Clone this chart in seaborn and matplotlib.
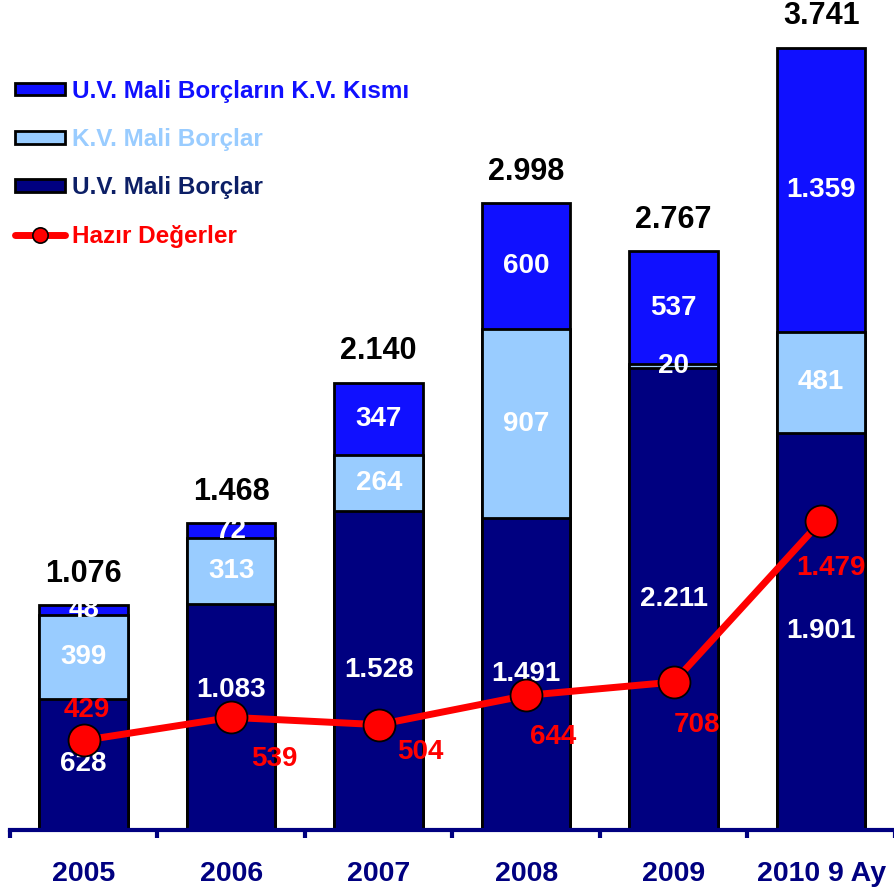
import numpy as np
import pandas as pd
import matplotlib
matplotlib.use("Agg")
import matplotlib.pyplot as plt
from matplotlib.patches import Patch
from matplotlib.lines import Line2D
import seaborn as sns

# Balance sheet figures (million TL)
years = ["2005", "2006", "2007", "2008", "2009", "2010 9 Ay"]
uv_borc = [628, 1083, 1528, 1491, 2211, 1901]          # U.V. Mali Borçlar
kv_borc = [399, 313, 264, 907, 20, 481]                # K.V. Mali Borçlar
uv_kv_kisim = [48, 72, 347, 600, 537, 1359]            # U.V. Mali Borçların K.V. Kısmı
toplam = [1076, 1468, 2140, 2998, 2767, 3741]
hazir = [429, 539, 504, 644, 708, 1479]                # Hazır Değerler

NAVY = "#000080"
LIGHT = "#99CCFF"
BLUE = "#1010FF"
RED = "#FF0000"
LEGEND_NAVY = "#0C1F66"


def fmt(v):
    return f"{v:,}".replace(",", ".")


sns.set_theme(style="white")
plt.rcParams["font.family"] = ["Liberation Sans", "DejaVu Sans"]
plt.rcParams["font.weight"] = "bold"

df = pd.DataFrame({
    "yil": years,
    "uv": uv_borc,
    "kv": kv_borc,
    "kisim": uv_kv_kisim,
})
df["alt_orta"] = df["uv"] + df["kv"]
df["ust"] = df["alt_orta"] + df["kisim"]

fig = plt.figure(figsize=(8.95, 8.90), dpi=100)
ax = fig.add_axes([10 / 895, 60 / 890, 885 / 895, 830 / 890])

bar_kw = dict(width=0.6, edgecolor="black", linewidth=2, saturation=1, ax=ax, order=years)
# Stacked bars drawn back to front from cumulative heights
sns.barplot(data=df, x="yil", y="ust", color=BLUE, **bar_kw)
sns.barplot(data=df, x="yil", y="alt_orta", color=LIGHT, **bar_kw)
sns.barplot(data=df, x="yil", y="uv", color=NAVY, **bar_kw)

# Cash line
xs = np.arange(len(years))
sns.lineplot(x=xs, y=hazir, ax=ax, color=RED, linewidth=5, marker="o",
             markersize=23, markerfacecolor=RED, markeredgecolor="black",
             markeredgewidth=1.3, zorder=5)

# label offsets for the cash values (points; x right, y up)
cash_offsets = [(2, 22), (31, -30), (30, -20), (19, -30), (17, -31), (7, -34)]

lbl = dict(color="white", fontsize=20, fontweight="bold", ha="center", va="center", zorder=4)
for i in range(len(years)):
    u, k, s = uv_borc[i], kv_borc[i], uv_kv_kisim[i]
    dy = 130 if i == 1 else 0
    ax.text(i, u / 2 + dy, fmt(u), **lbl)
    ax.text(i, u + k / 2, fmt(k), **lbl)
    ax.text(i, u + k + s / 2, fmt(s), **lbl)
    ax.annotate(fmt(toplam[i]), (i, u + k + s), xytext=(0, 12),
                textcoords="offset points", ha="center", va="bottom",
                fontsize=22, fontweight="bold", color="black")
    ax.annotate(fmt(hazir[i]), (i, hazir[i]), xytext=cash_offsets[i],
                textcoords="offset points", ha="center", va="center",
                fontsize=20, fontweight="bold", color=RED, zorder=6)

ax.set_xlim(-0.5, -0.5 + 885 / 148.6)
ax.set_ylim(0, 830 / 0.209)
ax.set_xlabel("")
ax.set_ylabel("")
ax.set_yticks([])
for side in ["left", "right", "top"]:
    ax.spines[side].set_visible(False)
ax.spines["bottom"].set_color(NAVY)
ax.spines["bottom"].set_linewidth(3)
ax.set_xticks(xs)
ax.set_xticklabels(years, fontsize=20.5, fontweight="bold", color=NAVY)
ax.tick_params(axis="x", which="major", length=0, pad=22)
ax.set_xticks(np.arange(-0.5, len(years), 1.0), minor=True)
ax.tick_params(axis="x", which="minor", bottom=True, length=6, width=3,
               color=NAVY, direction="out")

handles = [
    Patch(facecolor=BLUE, edgecolor="black", linewidth=2),
    Patch(facecolor=LIGHT, edgecolor="black", linewidth=2),
    Patch(facecolor=NAVY, edgecolor="black", linewidth=2),
    Line2D([0], [0], color=RED, linewidth=5, marker="o", markersize=11,
           markerfacecolor=RED, markeredgecolor="black", markeredgewidth=1.2),
]
labels = ["U.V. Mali Borçların K.V. Kısmı", "K.V. Mali Borçlar",
          "U.V. Mali Borçlar", "Hazır Değerler"]
leg = fig.legend(handles, labels, loc="upper left", bbox_to_anchor=(0.0062, 0.9214),
                 frameon=False, handlelength=2.06, handleheight=0.42,
                 handletextpad=0.28, labelspacing=1.04, borderaxespad=0,
                 prop={"weight": "bold", "size": 17.5})
for t, c in zip(leg.get_texts(), [BLUE, LIGHT, LEGEND_NAVY, RED]):
    t.set_color(c)

fig.savefig("out.png", dpi=100)
